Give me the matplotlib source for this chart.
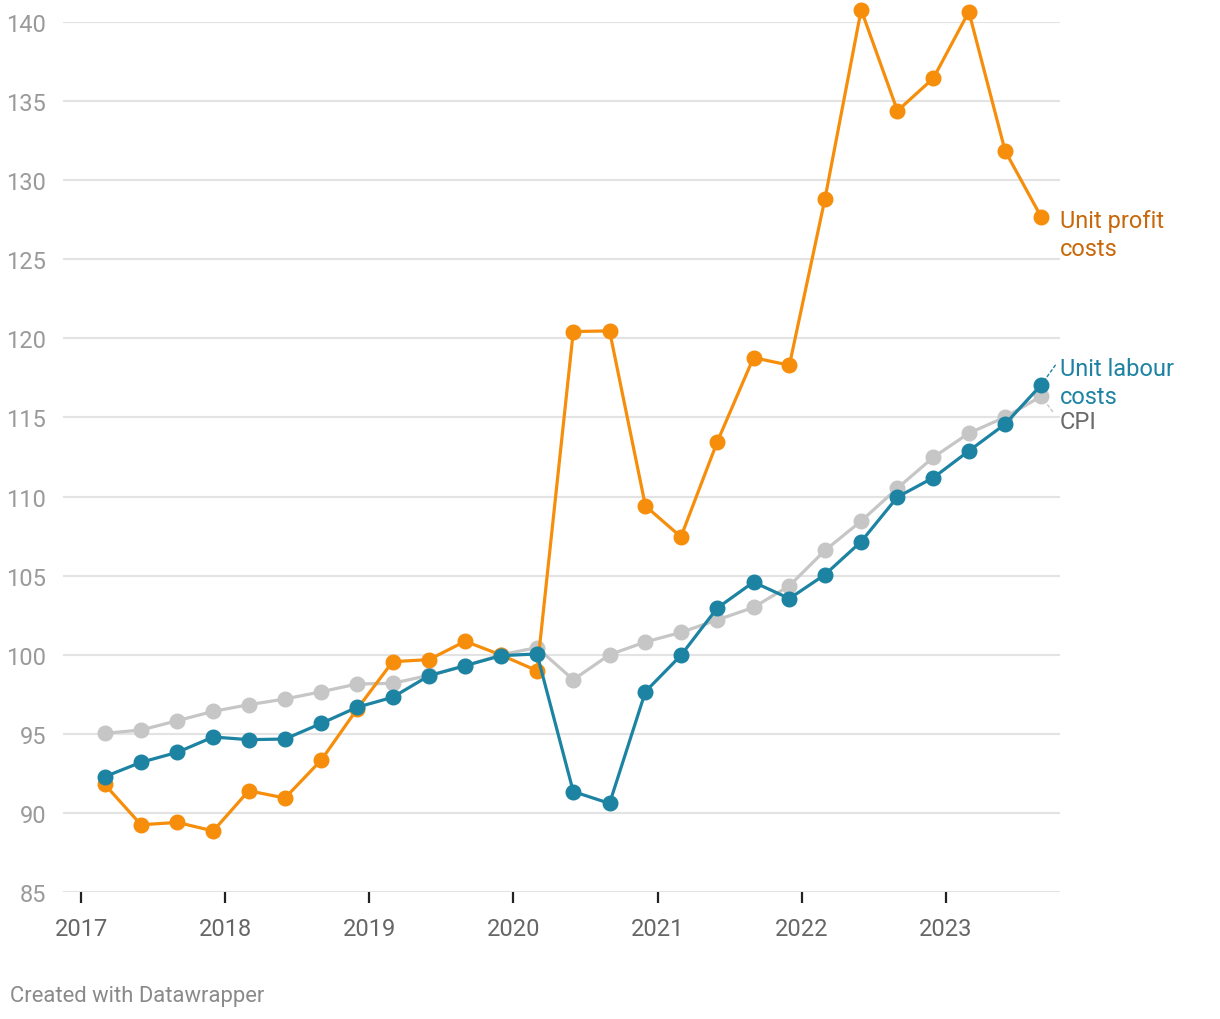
import matplotlib
matplotlib.use("Agg")
import matplotlib.pyplot as plt
import matplotlib.dates as mdates
import matplotlib.transforms as mtransforms
import pandas as pd

plt.rcParams['font.family'] = ['Roboto', 'DejaVu Sans']

# quarterly observations, 2017 Q1 .. 2023 Q3
dates = pd.date_range("2017-03-01", "2023-09-01", freq="3MS")

unit_profit = [91.8, 89.25, 89.4, 88.86, 91.4, 90.94, 93.34, 96.57, 99.56, 99.69,
               100.85, 99.98, 98.99, 120.43, 120.47, 109.4, 107.45, 113.45, 118.78,
               118.3, 128.8, 140.77, 134.38, 136.44, 140.65, 131.85, 127.65]
unit_labour = [92.29, 93.2, 93.83, 94.8, 94.63, 94.67, 95.66, 96.68, 97.31, 98.67,
               99.31, 99.94, 100.05, 91.35, 90.6, 97.67, 99.96, 102.95, 104.59,
               103.55, 105.06, 107.15, 109.97, 111.19, 112.88, 114.58, 117.07]
cpi = [95.03, 95.24, 95.83, 96.42, 96.84, 97.2, 97.66, 98.15, 98.19, 98.7,
       99.3, 100.0, 100.45, 98.42, 100.0, 100.81, 101.41, 102.2, 102.99,
       104.36, 106.59, 108.45, 110.53, 112.48, 114.0, 115.02, 116.34]

y_ticks = [85, 90, 95, 100, 105, 110, 115, 120, 125, 130, 135, 140]
x_years = [2017, 2018, 2019, 2020, 2021, 2022, 2023]

orange = '#f68e0b'
blue = '#1d83a2'
grey = '#c6c6c6'

fig = plt.figure(figsize=(12.2, 10.2), dpi=100)
ax = fig.add_axes([0.0516, 0.1245, 0.8172, 0.853])

for y in y_ticks:
    ax.axhline(y, color='#e3e3e3', lw=1.5, zorder=0)

series = [(cpi, grey, 1), (unit_profit, orange, 2), (unit_labour, blue, 3)]
for vals, col, z in series:
    ax.plot(dates, vals, color=col, lw=2.3, marker='o', markersize=10.5,
            zorder=z, clip_on=False)

ax.set_ylim(85, 140)
ax.set_xlim(pd.Timestamp("2016-11-15"), pd.Timestamp("2023-10-18"))
ax.set_yticks(y_ticks)
ax.set_xticks([pd.Timestamp(f"{y}-01-01") for y in x_years])
ax.xaxis.set_major_formatter(mdates.DateFormatter('%Y'))

for s in ax.spines.values():
    s.set_visible(False)
ax.tick_params(axis='y', length=0, pad=12, labelsize=17, labelcolor='#9a9a9a')
ax.tick_params(axis='x', length=8, width=1.6, color='#222222', pad=10,
               labelsize=17, labelcolor='#666666')

trans = mtransforms.blended_transform_factory(ax.transAxes, ax.transData)
ax.text(1.0, 126.55, 'Unit profit\ncosts', transform=trans, color='#c8680a',
        fontsize=17, va='center', ha='left', linespacing=1.25)
ax.text(1.0, 117.2, 'Unit labour\ncosts', transform=trans, color=blue,
        fontsize=17, va='center', ha='left', linespacing=1.25)
ax.text(1.0, 114.72, 'CPI', transform=trans, color='#6a6a6a',
        fontsize=17, va='center', ha='left')

# short dotted leaders from the last points to their labels
ax.annotate('', xy=(dates[-1], unit_labour[-1]), xytext=(10, 14),
            textcoords='offset points',
            arrowprops=dict(arrowstyle='-', color=blue, lw=1, linestyle=(0, (2, 2)),
                            shrinkA=0, shrinkB=4))
ax.annotate('', xy=(dates[-1], cpi[-1]), xytext=(8, -11),
            textcoords='offset points',
            arrowprops=dict(arrowstyle='-', color=grey, lw=1, linestyle=(0, (2, 2)),
                            shrinkA=0, shrinkB=4))

fig.text(10 / 1220, 1 - 997 / 1020, 'Created with Datawrapper', fontsize=15.8,
         color='#8a8a8a', ha='left', va='center')

fig.savefig('out.png', dpi=100, facecolor='white')
